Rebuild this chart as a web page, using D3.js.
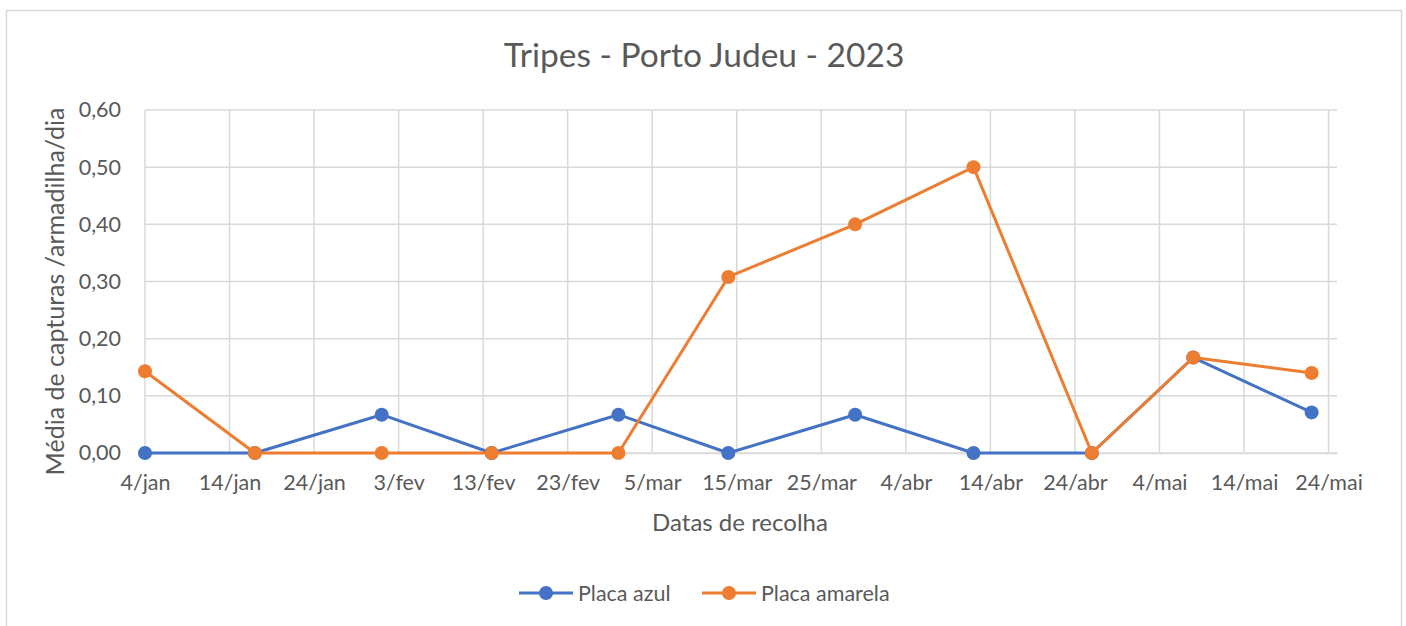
<!DOCTYPE html>
<html>
<head>
<meta charset="utf-8">
<script src="https://cdn.jsdelivr.net/npm/d3@7"></script>
<style>
  body { margin: 0; background: #fff; }
  text { font-family: Lato, "Open Sans", sans-serif; fill: #595959; }
</style>
</head>
<body>
<svg id="chart" width="1406" height="626"></svg>
<script>
// collection dates and mean captures per trap per day
var dates = ['2023-01-04', '2023-01-17', '2023-02-01', '2023-02-14', '2023-03-01', '2023-03-14',
  '2023-03-29', '2023-04-12', '2023-04-26', '2023-05-08', '2023-05-22'];
var placaAzul = [0, 0, 0.067, 0, 0.067, 0, 0.067, 0, 0, 0.167, 0.071];
var placaAmarela = [0.143, 0, 0, 0, 0, 0.308, 0.4, 0.5, 0, 0.167, 0.14];

var tickLabels = ['4/jan', '14/jan', '24/jan', '3/fev', '13/fev', '23/fev', '5/mar', '15/mar',
  '25/mar', '4/abr', '14/abr', '24/abr', '4/mai', '14/mai', '24/mai'];
var yTicks = [0, 0.1, 0.2, 0.3, 0.4, 0.5, 0.6];

var series = [
  {name: 'Placa azul', values: placaAzul, color: '#4472C4'},
  {name: 'Placa amarela', values: placaAmarela, color: '#ED7D31'}
];

var parse = d3.utcParse('%Y-%m-%d');
var start = parse('2023-01-04');
var end = parse('2023-05-25');

var svg = d3.select('#chart');
var margin = {left: 145, right: 69, top: 110, bottom: 173};
var width = 1406 - margin.left - margin.right;
var height = 626 - margin.top - margin.bottom;

// outer border
svg.append('rect')
  .attr('x', 6.5).attr('y', 10.5)
  .attr('width', 1395).attr('height', 640)
  .attr('fill', '#fff').attr('stroke', '#d9d9d9').attr('stroke-width', 1.5);

var x = d3.scaleUtc().domain([start, end]).range([0, width]);
var y = d3.scaleLinear().domain([0, 0.6]).range([height, 0]);

var tickDates = d3.utcDay.range(start, end, 10);

var g = svg.append('g').attr('transform', 'translate(' + margin.left + ',' + margin.top + ')');

// gridlines
g.append('g').selectAll('line.h')
  .data(yTicks).enter().append('line')
  .attr('x1', 0).attr('x2', width)
  .attr('y1', function (d) { return y(d); }).attr('y2', function (d) { return y(d); })
  .attr('stroke', '#d9d9d9').attr('stroke-width', 1.5);

g.append('g').selectAll('line.v')
  .data(tickDates).enter().append('line')
  .attr('x1', function (d) { return x(d); }).attr('x2', function (d) { return x(d); })
  .attr('y1', 0).attr('y2', height)
  .attr('stroke', '#d9d9d9').attr('stroke-width', 1.5);

// x axis
var xAxis = d3.axisBottom(x).tickValues(tickDates)
  .tickFormat(function (d, i) { return tickLabels[i]; })
  .tickSize(0).tickPadding(22);
var xg = g.append('g').attr('transform', 'translate(0,' + height + ')').call(xAxis);
xg.select('.domain').attr('stroke', '#d9d9d9').attr('stroke-width', 1.5);
xg.selectAll('text').style('font-size', '21.5px').attr('fill', '#595959');

// y axis
var yAxis = d3.axisLeft(y).tickValues(yTicks)
  .tickFormat(function (d) { return d3.format('.2f')(d).replace('.', ','); })
  .tickSize(0).tickPadding(24);
var yg = g.append('g').call(yAxis);
yg.select('.domain').remove();
yg.selectAll('text').style('font-size', '21.5px').attr('fill', '#595959');

// lines and markers
var line = d3.line()
  .x(function (d, i) { return x(parse(dates[i])); })
  .y(function (d) { return y(d); });

series.forEach(function (s) {
  g.append('path')
    .datum(s.values)
    .attr('d', line)
    .attr('fill', 'none')
    .attr('stroke', s.color)
    .attr('stroke-width', 3)
    .attr('stroke-linejoin', 'round');
  g.append('g').selectAll('circle')
    .data(s.values).enter().append('circle')
    .attr('cx', function (d, i) { return x(parse(dates[i])); })
    .attr('cy', function (d) { return y(d); })
    .attr('r', 7)
    .attr('fill', s.color);
});

// titles
svg.append('text')
  .attr('x', 704).attr('y', 67)
  .attr('text-anchor', 'middle')
  .style('font-size', '33.5px')
  .text('Tripes - Porto Judeu - 2023');

svg.append('text')
  .attr('x', 740).attr('y', 531)
  .attr('text-anchor', 'middle')
  .style('font-size', '24px')
  .text('Datas de recolha');

svg.append('text')
  .attr('transform', 'translate(64,' + (margin.top + height / 2 + 10) + ') rotate(-90)')
  .attr('text-anchor', 'middle')
  .style('font-size', '25px')
  .text('Média de capturas /armadilha/dia');

// legend
var legendX = [519, 702];
var legend = svg.append('g');
series.forEach(function (s, i) {
  var lg = legend.append('g').attr('transform', 'translate(' + legendX[i] + ',593)');
  lg.append('line').attr('x1', 0).attr('x2', 54).attr('y1', 0).attr('y2', 0)
    .attr('stroke', s.color).attr('stroke-width', 3);
  lg.append('circle').attr('cx', 27).attr('cy', 0).attr('r', 7).attr('fill', s.color);
  lg.append('text').attr('x', 59).attr('y', 8)
    .style('font-size', '21.5px')
    .text(s.name);
});
</script>
</body>
</html>
